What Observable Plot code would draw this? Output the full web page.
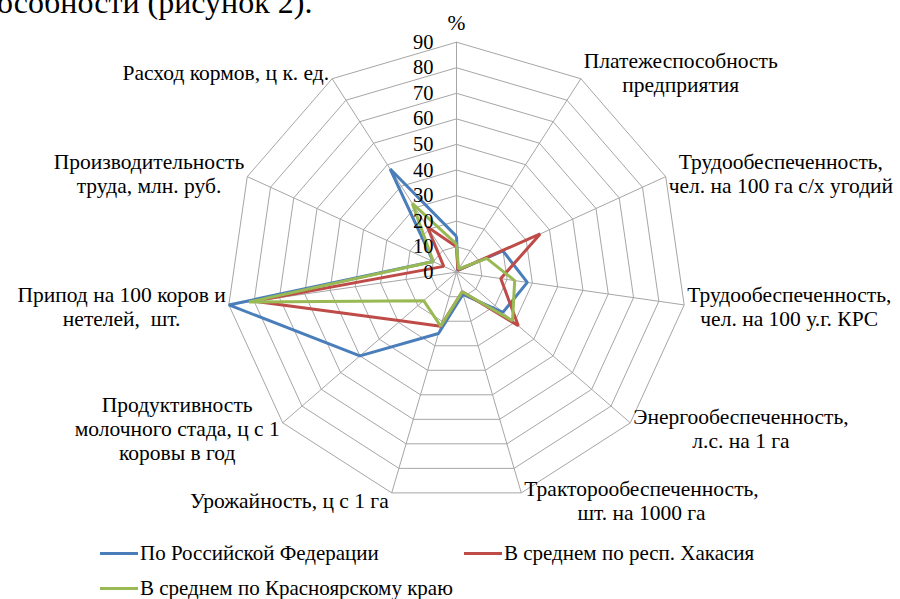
<!DOCTYPE html>
<html><head><meta charset="utf-8">
<script src="https://cdn.jsdelivr.net/npm/d3@7"></script>
<script src="https://cdn.jsdelivr.net/npm/@observablehq/plot@0.6"></script>
<style>
html,body{margin:0;padding:0;background:#fff;width:900px;height:599px;overflow:hidden;}
body{position:relative;font-family:"Liberation Serif","Times New Roman",serif;color:#000;}
#frag{position:absolute;left:-3px;top:-14px;font-size:32px;line-height:32px;white-space:nowrap;z-index:2;}
#chart{position:absolute;left:0;top:0;z-index:1;}
#legend{position:absolute;left:0;top:536px;width:900px;font-size:21px;}
.row{position:relative;height:35px;}
.item{position:absolute;top:0;height:35px;display:flex;align-items:center;white-space:nowrap;}
.sw{width:38px;height:3px;margin-right:2px;}
</style></head><body>
<div id="frag">особности (рисунок 2).</div>
<div id="chart"></div>
<div id="legend"></div>
<script>
// ---- data ----
const categories = [
  "%",
  "Платежеспособность\nпредприятия",
  "Трудообеспеченность,\nчел. на 100 га с/х угодий",
  "Трудообеспеченность,\nчел. на 100 у.г. КРС",
  "Энергообеспеченность,\nл.с. на 1 га",
  "Тракторообеспеченность,\nшт. на 1000 га",
  "Урожайность, ц с 1 га",
  "Продуктивность\nмолочного стада, ц с 1\nкоровы в год",
  "Припод на 100 коров и\nнетелей,  шт.",
  "Производительность\nтруда, млн. руб.",
  "Расход кормов, ц к. ед."
];
const seriesNames = ["По Российской Федерации", "В среднем по респ. Хакасия", "В среднем по Красноярскому краю"];
const valuesRF    = [14, 1, 20, 28, 24, 9, 25, 50, 90, 10, 48];
const valuesKhak  = [10, 1, 36, 17.5, 32, 8, 22, 29, 80, 5.5, 21];
const valuesKras  = [11, 1.5, 13, 23, 29, 8, 22, 17, 82, 10, 32];
const ticks = [0, 10, 20, 30, 40, 50, 60, 70, 80, 90];
const colors = ["#4a7ebb", "#be4b48", "#98b954"];

// ---- geometry ----
const W = 900, H = 536, cx = 456, cy = 271.7, R = 230;
const maxV = d3.max(ticks);
const k = R / maxV;
const N = categories.length;
const ang = i => i * 2 * Math.PI / N;
const pt = (i, v) => ({x: v * Math.sin(ang(i)), y: v * Math.cos(ang(i))});

const rings = ticks.filter(t => t > 0).flatMap(t => d3.range(N + 1).map(j => ({level: t, ...pt(j % N, t)})));
const spokes = d3.range(N).map(i => ({x1: 0, y1: 0, ...pt(i, maxV)}));
const allSeries = [valuesRF, valuesKhak, valuesKras];
const seriesData = allSeries.flatMap((vals, s) => d3.range(N + 1).map(j => ({name: seriesNames[s], ...pt(j % N, vals[j % N])})));
const tickData = ticks.map(t => ({x: 0, y: t, t}));

// label placement
const fontPx = 21.5, tickPx = 20.5, lineH = 1.12;
const ctx = document.createElement("canvas").getContext("2d");
ctx.font = `${fontPx}px "Liberation Serif"`;
const labels = categories.map((text, i) => {
  const s = Math.sin(ang(i)), c = Math.cos(ang(i));
  const lines = text.split("\n");
  const w = d3.max(lines, l => ctx.measureText(l).width);
  const v = pt(i, maxV);
  if (Math.abs(s) < 0.05) {
    const off = 8 + lines.length * lineH * fontPx / 2;
    return {text, x: v.x, y: v.y + off / k};
  }
  return {text, x: v.x + Math.sign(s) * (3 + w / 2) / k, y: v.y + c * 8 / k};
});

const grid = "#a6a6a6";
const chart = Plot.plot({
  width: W, height: H, margin: 0,
  x: {domain: [-cx / k, (W - cx) / k], axis: null},
  y: {domain: [-(H - cy) / k, cy / k], axis: null},
  color: {domain: seriesNames, range: colors},
  style: {fontFamily: '"Liberation Serif","Times New Roman",serif', fontSize: "20px", background: "white", color: "#000"},
  marks: [
    Plot.line(rings, {x: "x", y: "y", z: "level", stroke: grid, strokeWidth: 1}),
    Plot.link(spokes, {x1: "x1", y1: "y1", x2: "x", y2: "y", stroke: grid, strokeWidth: 1}),
    Plot.line(seriesData, {x: "x", y: "y", z: "name", stroke: "name", strokeWidth: 3, strokeLinejoin: "miter", strokeLinecap: "butt"}),
    Plot.text(tickData, {x: "x", y: "y", text: d => String(d.t), textAnchor: "end", dx: -23, fontSize: tickPx, fill: "#000"}),
    Plot.text(labels, {x: "x", y: "y", text: "text", textAnchor: "middle", lineAnchor: "middle", lineHeight: lineH, fontSize: fontPx, fill: "#000"})
  ]
});
document.getElementById("chart").appendChild(chart);

// legend
const legend = document.getElementById("legend");
const layout = [[{i: 0, left: 100}, {i: 1, left: 464}], [{i: 2, left: 100}]];
layout.forEach(row => {
  const r = document.createElement("div"); r.className = "row";
  row.forEach(({i, left}) => {
    const it = document.createElement("div"); it.className = "item"; it.style.left = left + "px";
    const sw = document.createElement("span"); sw.className = "sw"; sw.style.background = colors[i];
    const tx = document.createElement("span"); tx.textContent = seriesNames[i];
    it.appendChild(sw); it.appendChild(tx); r.appendChild(it);
  });
  legend.appendChild(r);
});
</script>
</body></html>
